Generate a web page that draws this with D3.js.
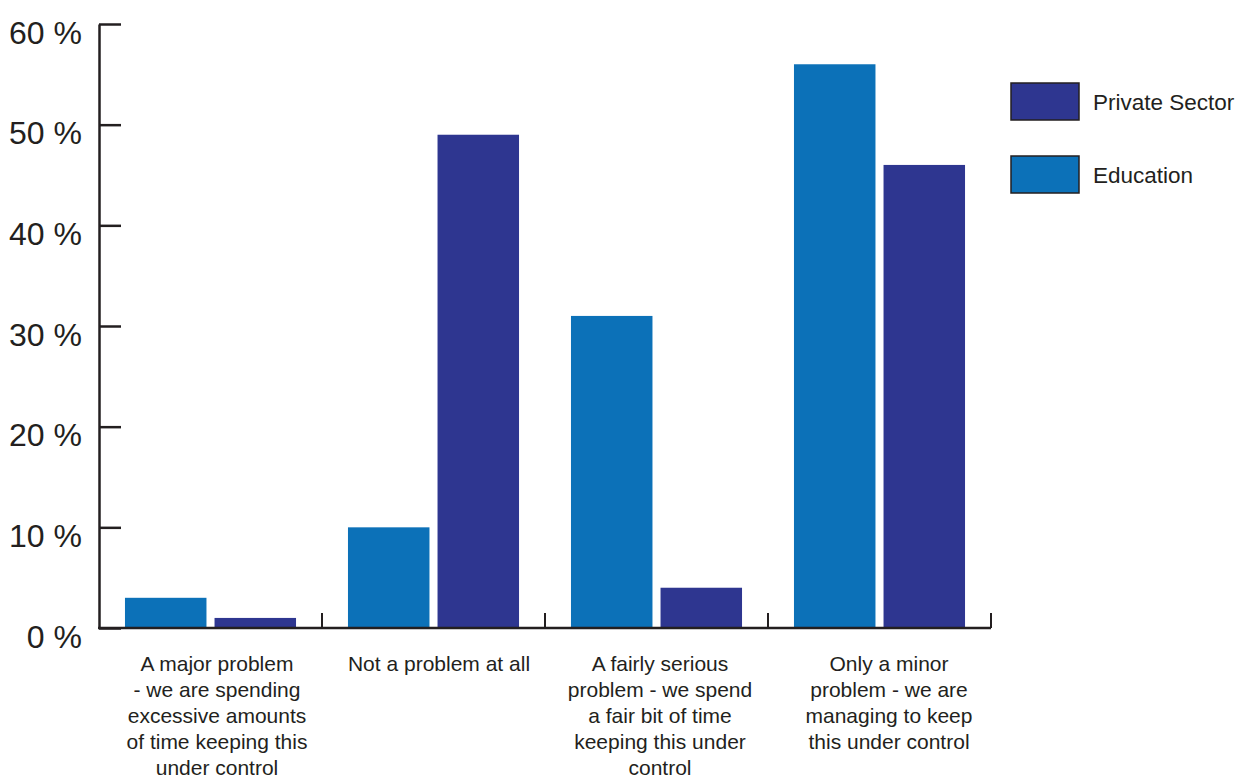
<!DOCTYPE html>
<html>
<head>
<meta charset="utf-8">
<script src="https://cdn.jsdelivr.net/npm/d3@7"></script>
<style>
  html, body { margin: 0; padding: 0; background: #ffffff; }
  svg { display: block; font-family: "Liberation Sans", Arial, Helvetica, sans-serif; }
</style>
</head>
<body>
<svg id="chart" width="1236" height="777"></svg>
<script>
// Survey answers, one group of bars per answer
const categories = [
  "A major problem - we are spending excessive amounts of time keeping this under control",
  "Not a problem at all",
  "A fairly serious problem - we spend a fair bit of time keeping this under control",
  "Only a minor problem - we are managing to keep this under control"
];
// Wrapped label lines for each answer
const categoryLines = [
  ["A major problem", "- we are spending", "excessive amounts", "of time keeping this", "under control"],
  ["Not a problem at all"],
  ["A fairly serious", "problem - we spend", "a fair bit of time", "keeping this under", "control"],
  ["Only a minor", "problem - we are", "managing to keep", "this under control"]
];
const seriesNames = ["Education", "Private Sector"];
const educationValues = [3, 10, 31, 56];
const privateSectorValues = [1, 49, 4, 46];
const yTicks = [0, 10, 20, 30, 40, 50, 60];
const legendOrder = ["Private Sector", "Education"];

const colors = { "Education": "#0c71b8", "Private Sector": "#2e3690" };
const axisColor = "#231f20";

const svg = d3.select("#chart");

const x0 = d3.scaleBand().domain(categories).range([99, 991]);
const x1 = d3.scaleBand().domain(seriesNames).range([0, x0.bandwidth()])
  .paddingInner(0.09).paddingOuter(0.29);
const y = d3.scaleLinear().domain([0, 60]).range([628, 24]);

const rows = categories.map((c, i) => ({
  category: c,
  values: [
    { series: "Education", value: educationValues[i] },
    { series: "Private Sector", value: privateSectorValues[i] }
  ]
}));

// Bars
const groups = svg.append("g").selectAll("g")
  .data(rows).join("g")
  .attr("transform", d => `translate(${x0(d.category)},0)`);
groups.selectAll("rect")
  .data(d => d.values).join("rect")
  .attr("x", d => x1(d.series))
  .attr("width", x1.bandwidth())
  .attr("y", d => y(d.value))
  .attr("height", d => y(0) - y(d.value))
  .attr("fill", d => colors[d.series]);

// Value axis, ticks pointing into the plot
const yAxis = svg.append("g")
  .attr("transform", "translate(99,0)")
  .call(d3.axisLeft(y).tickValues(yTicks).tickSizeInner(-22).tickSizeOuter(0)
    .tickPadding(17).tickFormat(d => d + " %"));
yAxis.select(".domain").attr("stroke", axisColor).attr("stroke-width", 2.5);
yAxis.selectAll(".tick line").attr("stroke", axisColor).attr("stroke-width", 2.5);
yAxis.selectAll(".tick text")
  .attr("fill", "#231f20")
  .attr("font-size", 32)
  .attr("font-family", "'Liberation Sans', Arial, sans-serif")
  .attr("dy", "0.6em");

// Category axis: baseline with short upward ticks at group boundaries
const boundaries = categories.map(c => x0(c) + x0.step());
const xAxis = svg.append("g");
xAxis.append("line")
  .attr("x1", x0.range()[0] - 1).attr("x2", x0.range()[1])
  .attr("y1", y(0)).attr("y2", y(0))
  .attr("stroke", axisColor).attr("stroke-width", 2.5);
xAxis.selectAll("line.tick")
  .data(boundaries).join("line")
  .attr("class", "tick")
  .attr("x1", d => d).attr("x2", d => d)
  .attr("y1", y(0)).attr("y2", y(0) - 15)
  .attr("stroke", axisColor).attr("stroke-width", 2);

// Category labels
const labelOffsets = [6.5, 5.5, 3.5, 9.5];
const labels = svg.append("g").selectAll("text")
  .data(categories).join("text")
  .attr("x", (d, i) => x0(d) + x0.bandwidth() / 2 + labelOffsets[i])
  .attr("y", 671)
  .attr("text-anchor", "middle")
  .attr("font-size", 21)
  .attr("fill", "#231f20");
labels.each(function(d, i) {
  d3.select(this).selectAll("tspan")
    .data(categoryLines[i]).join("tspan")
    .attr("x", d3.select(this).attr("x"))
    .attr("dy", (t, j) => j === 0 ? 0 : 26)
    .text(t => t);
});

// Legend
const legend = svg.append("g").selectAll("g")
  .data(legendOrder).join("g")
  .attr("transform", (d, i) => `translate(1011,${83 + i * 73})`);
legend.append("rect")
  .attr("width", 68).attr("height", 37)
  .attr("fill", d => colors[d])
  .attr("stroke", axisColor).attr("stroke-width", 1.5);
legend.append("text")
  .attr("x", 82).attr("y", 27)
  .attr("font-size", 22.5)
  .attr("fill", "#231f20")
  .text(d => d);
</script>
</body>
</html>
